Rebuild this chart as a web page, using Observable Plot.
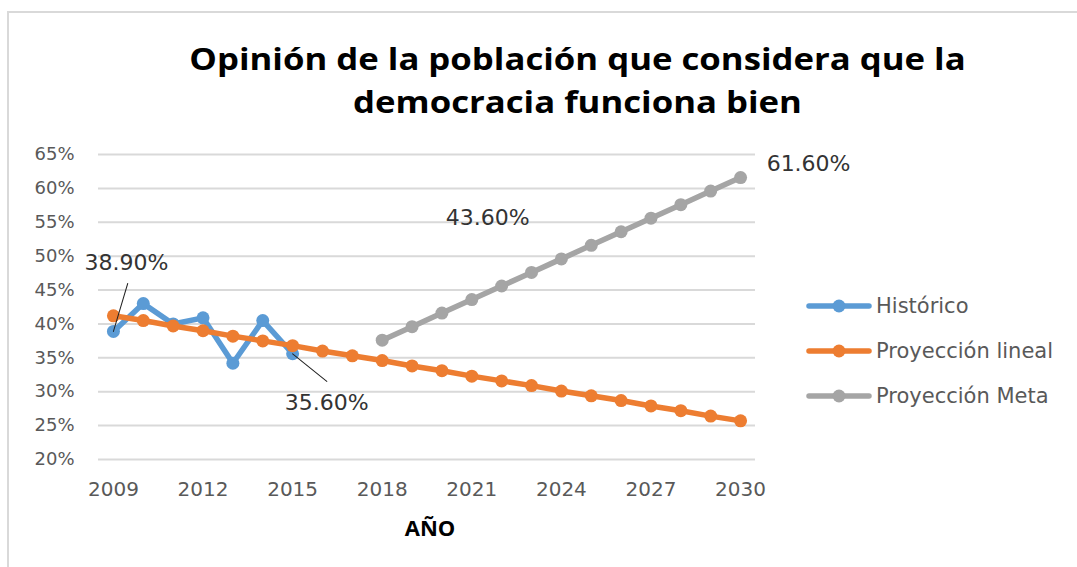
<!DOCTYPE html>
<html>
<head>
<meta charset="utf-8">
<script src="https://cdn.jsdelivr.net/npm/d3@7"></script>
<script src="https://cdn.jsdelivr.net/npm/@observablehq/plot@0.6"></script>
<style>
  html, body { margin: 0; padding: 0; background: #fff; }
  #wrap { position: relative; width: 1077px; height: 567px; overflow: hidden; background: #fff; }
  #frame { position: absolute; left: 7px; top: 11px; width: 1200px; height: 700px; border: 2px solid #d9d9d9; box-sizing: border-box; }
  #title { position: relative; height: 134px; box-sizing: border-box; padding-top: 37px; text-align: center;
           font-family: "Open Sans", sans-serif; font-weight: 700; font-size: 31px; line-height: 43px; color: #000; }
  #title div { position: relative; left: 39px; transform: scaleX(1.12); transform-origin: center; }
  #legend { position: absolute; left: 806px; top: 283px; font-family: "DejaVu Sans", sans-serif; font-size: 21px; color: #595959; }
  .item { display: flex; align-items: center; height: 45px; }
  .item svg { margin-right: 4px; }
  #chart { position: relative; }
</style>
</head>
<body>
<div id="wrap">
  <div id="frame"></div>
  <div id="title"><div>Opinión de la población que considera que la</div><div>democracia funciona bien</div></div>
  <div id="chart"></div>
  <div id="legend"></div>
</div>
<script>
// ---- data ----
const years = d3.range(2009, 2031);
const historico = [38.9, 43.0, 40.0, 40.9, 34.2, 40.5, 35.6];            // 2009–2015
const proyeccionLineal = [41.2, 40.5, 39.7, 39.0, 38.2, 37.5, 36.8, 36.0, 35.3, 34.6, 33.8,
                          33.1, 32.3, 31.6, 30.9, 30.1, 29.4, 28.7, 27.9, 27.2, 26.4, 25.7]; // 2009–2030
const metaYears = d3.range(2018, 2031);
const proyeccionMeta = [37.6, 39.6, 41.6, 43.6, 45.6, 47.6, 49.6, 51.6, 53.6, 55.6, 57.6, 59.6, 61.6]; // 2018–2030
const yTicks = [20, 25, 30, 35, 40, 45, 50, 55, 60, 65];
const xTicks = [2009, 2012, 2015, 2018, 2021, 2024, 2027, 2030];
const seriesNames = ["Histórico", "Proyección lineal", "Proyección Meta"];
const seriesColors = ["#5B9BD5", "#ED7D31", "#A5A5A5"];

const hist = historico.map((v, i) => ({year: years[i], value: v}));
const lin = proyeccionLineal.map((v, i) => ({year: years[i], value: v}));
const meta = proyeccionMeta.map((v, i) => ({year: metaYears[i], value: v}));

const fmt = d => d.value.toFixed(2) + "%";
const lineShape = {draw(context, l) { context.moveTo(0, 0); context.lineTo(0, -l); }};

const chart = Plot.plot({
  width: 1077,
  height: 433,
  marginTop: 20,
  marginBottom: 108,
  marginLeft: 98,
  marginRight: 322,
  style: {fontFamily: "DejaVu Sans, sans-serif", background: "transparent", overflow: "visible"},
  x: {domain: [2008.5, 2030.5]},
  y: {domain: [20, 65]},
  marks: [
    Plot.gridY(yTicks, {stroke: "#d9d9d9", strokeOpacity: 1, strokeWidth: 2}),
    Plot.axisY(yTicks, {tickSize: 0, tickPadding: 24, tickFormat: d => d + "%", fontSize: 18, fill: "#595959", label: null}),
    Plot.axisX(xTicks, {tickSize: 0, tickPadding: 22, tickFormat: d => String(d), fontSize: 20, fill: "#595959", label: null}),
    Plot.text(["AÑO"], {frameAnchor: "bottom", dy: 76, dx: 3, fontFamily: "Open Sans, sans-serif", fontWeight: 700, fontSize: 22, fill: "#000"}),
    // Histórico
    Plot.line(hist, {x: "year", y: "value", stroke: seriesColors[0], strokeWidth: 5.5}),
    Plot.dot(hist, {x: "year", y: "value", r: 6.5, fill: seriesColors[0]}),
    // Proyección lineal
    Plot.line(lin, {x: "year", y: "value", stroke: seriesColors[1], strokeWidth: 5.5}),
    Plot.dot(lin, {x: "year", y: "value", r: 6.5, fill: seriesColors[1]}),
    // Proyección Meta
    Plot.line(meta, {x: "year", y: "value", stroke: seriesColors[2], strokeWidth: 5.5}),
    Plot.dot(meta, {x: "year", y: "value", r: 6.5, fill: seriesColors[2]}),
    // leader lines
    Plot.vector([hist[0]], {x: "year", y: "value", anchor: "start", length: 50, rotate: 16.6, shape: lineShape, stroke: "#222", strokeWidth: 1}),
    Plot.vector([hist[6]], {x: "year", y: "value", anchor: "start", length: 44, rotate: 129, shape: lineShape, stroke: "#222", strokeWidth: 1}),
    // data labels
    Plot.text([hist[0]], {x: "year", y: "value", text: fmt, dx: 13, dy: -68, fontSize: 22, fill: "#333"}),
    Plot.text([hist[6]], {x: "year", y: "value", text: fmt, dx: 34, dy: 49, fontSize: 22, fill: "#333"}),
    Plot.text([meta[3]], {x: "year", y: "value", text: fmt, dx: 16, dy: -82, fontSize: 22, fill: "#333"}),
    Plot.text([meta[12]], {x: "year", y: "value", text: fmt, dx: 68, dy: -14, fontSize: 22, fill: "#333"})
  ]
});
document.getElementById("chart").appendChild(chart);

// legend
const legend = document.getElementById("legend");
seriesNames.forEach((name, i) => {
  const row = document.createElement("div");
  row.className = "item";
  row.innerHTML = `<svg width="66" height="16"><line x1="3" y1="8" x2="63" y2="8" stroke="${seriesColors[i]}" stroke-width="5.5" stroke-linecap="round"/><circle cx="33" cy="8" r="6.5" fill="${seriesColors[i]}"/></svg><span>${name}</span>`;
  legend.appendChild(row);
});
</script>
</body>
</html>
